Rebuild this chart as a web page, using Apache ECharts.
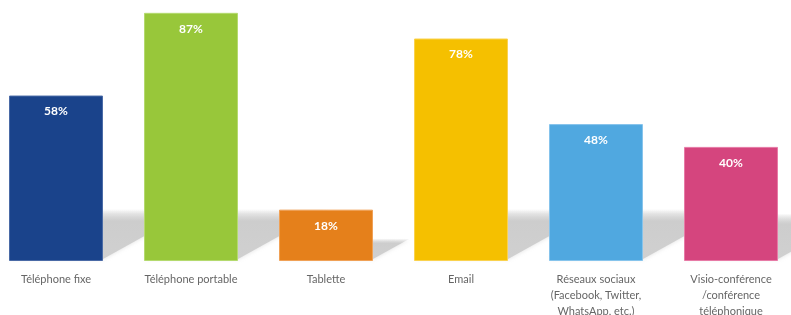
<!DOCTYPE html>
<html>
<head>
  <meta charset="utf-8">
  <title>Usage des outils</title>
  <script src="https://cdn.jsdelivr.net/npm/echarts@6.0.0/dist/echarts.min.js"></script>
  <style>
    html, body { margin: 0; padding: 0; background: #fff; }
    #chart { width: 791px; height: 315px; }
  </style>
</head>
<body>
<div id="chart"></div>
<script>
// data
var categories = [
    "Téléphone fixe",
    "Téléphone portable",
    "Tablette",
    "Email",
    "Réseaux sociaux\n(Facebook, Twitter,\nWhatsApp, etc.)",
    "Visio-conférence\n/conférence\ntéléphonique"
];
var values = [58, 87, 18, 78, 48, 40];
var barColors = ["#1a438b", "#98c73a", "#e5801b", "#f5c000", "#50a8e0", "#d5457e"];
var borderColors = ["#4a6aa6", "#b4da6e", "#f0a156", "#fad24e", "#86c4ec", "#e77aa6"];

var BAR_RATIO = 94 / 135;

var chart = echarts.init(document.getElementById("chart"));

// soft grey perspective shadow behind each bar
function renderShadow(params, api) {
    var base = api.coord([api.value(0), 0]);
    var top = api.coord([api.value(0), api.value(1)]);
    var band = api.size([1, 0])[0];
    var w = band * BAR_RATIO;
    var h = base[1] - top[1];
    var dy = Math.min(h * 0.4, 50);
    var dx = dy * 1.8;
    var xL = base[0] - w / 2, xR = base[0] + w / 2, B = base[1] - 2;
    return {
        type: "polygon",
        shape: { points: [[xL, B], [xR, B], [xR + dx, B - dy], [xL + dx, B - dy]] },
        style: {
            fill: new echarts.graphic.LinearGradient(0, 0, 0, 1, [
                { offset: 0, color: "rgba(205,205,205,0)" },
                { offset: 0.25, color: "rgba(205,205,205,1)" },
                { offset: 1, color: "rgba(208,208,208,1)" }
            ]),
            shadowBlur: 4,
            shadowColor: "rgba(215,215,215,0.8)"
        }
    };
}

var option = {
    animation: false,
    grid: { left: -11.5, right: -7.5, top: 0, bottom: 54, containLabel: false, outerBoundsMode: "none" },
    xAxis: {
        type: "category",
        data: categories,
        axisLine: { show: false },
        axisTick: { show: false },
        axisLabel: {
            interval: 0,
            color: "#666666",
            fontFamily: "Lato",
            fontSize: 11,
            lineHeight: 16,
            margin: 10
        }
    },
    yAxis: { type: "value", min: 0, max: 91.5, show: false, splitLine: { show: false } },
    series: [{
        type: "custom",
        z: 1,
        renderItem: renderShadow,
        data: values.map(function(v, i) { return [i, v]; }),
        silent: true
    }, {
        type: "bar",
        z: 3,
        barWidth: "69.6%",
        data: values.map(function(v, i) {
            return {
                value: v,
                itemStyle: { color: barColors[i], borderColor: borderColors[i], borderWidth: 1 }
            };
        }),
        label: {
            show: true,
            position: "insideTop",
            distance: 10,
            color: "#ffffff",
            fontFamily: "Lato",
            fontWeight: "bold",
            fontSize: 12,
            formatter: "{c}%"
        }
    }]
};
chart.setOption(option);
</script>
</body>
</html>
